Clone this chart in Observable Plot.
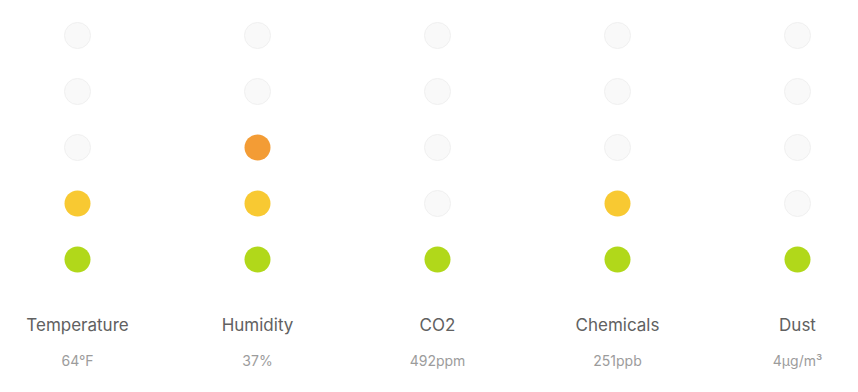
<!DOCTYPE html>
<html>
<head>
<meta charset="utf-8">
<script src="https://cdn.jsdelivr.net/npm/d3@7"></script>
<script src="https://cdn.jsdelivr.net/npm/@observablehq/plot@0.6"></script>
<style>
  html, body { margin: 0; padding: 0; background: #fff; }
  svg { display: block; }
</style>
</head>
<body>
<div id="chart"></div>
<script>
const categories = ["Temperature", "Humidity", "CO2", "Chemicals", "Dust"];
const readings = ["64°F", "37%", "492ppm", "251ppb", "4µg/m³"];
const levels = [2, 3, 1, 2, 1];
const levelSteps = [1, 2, 3, 4, 5];
const levelColors = ["#b1d81a", "#f8c932", "#f39c35", "#ec6a3a", "#e0443a"];
const emptyColor = "#f9f9f9";

const cells = [];
categories.forEach((c, i) => {
  levelSteps.forEach(l => {
    cells.push({category: c, level: l, on: l <= levels[i], color: l <= levels[i] ? levelColors[l - 1] : emptyColor});
  });
});
const labels = categories.map((c, i) => ({category: c, reading: readings[i]}));

const chart = Plot.plot({
  width: 858,
  height: 392,
  marginLeft: 76,
  marginRight: 60,
  marginTop: 33,
  marginBottom: 132,
  style: {fontFamily: "Inter, 'Noto Sans', sans-serif", background: "#fff"},
  x: {type: "point", domain: categories, padding: 0, axis: null},
  y: {type: "point", domain: [...levelSteps].reverse(), padding: 0, axis: null},
  marks: [
    Plot.dot(cells.filter(d => !d.on), {x: "category", y: "level", r: 13, fill: "color", stroke: "#f0f0f0", strokeWidth: 1}),
    Plot.dot(cells.filter(d => d.on), {x: "category", y: "level", r: 13, fill: "color", stroke: null}),
    Plot.text(labels, {x: "category", text: "category", frameAnchor: "bottom", dy: 70, fontSize: 17, fill: "#616161"}),
    Plot.text(labels, {x: "category", text: "reading", frameAnchor: "bottom", dy: 105, fontSize: 14, fill: "#9c9c9c"})
  ]
});
document.getElementById("chart").appendChild(chart);
</script>
</body>
</html>
